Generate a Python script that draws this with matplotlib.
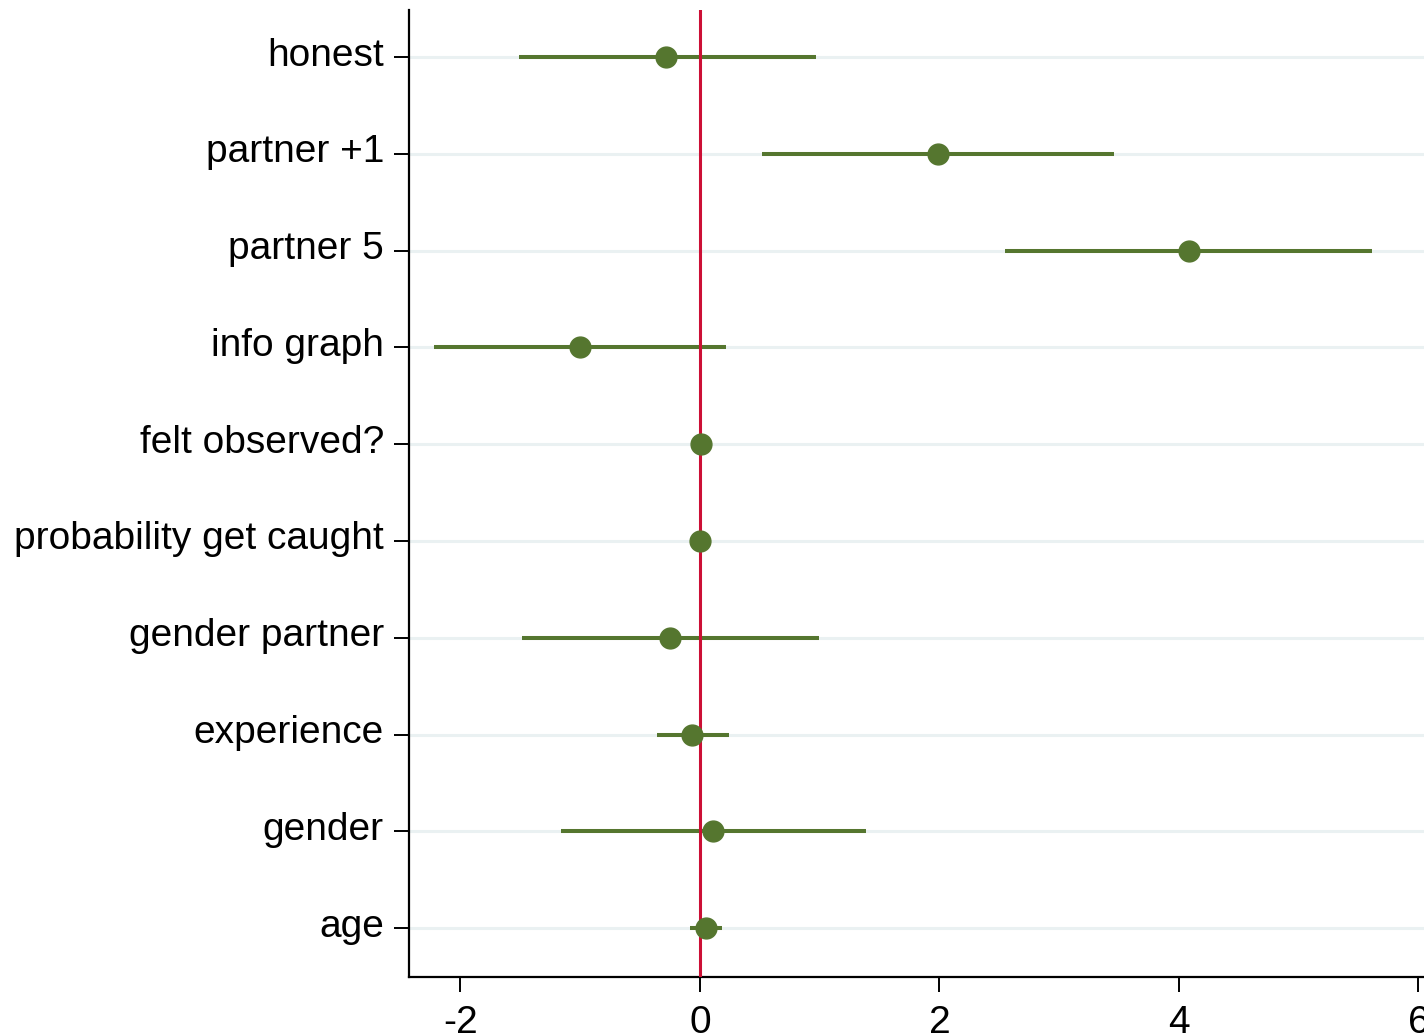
import matplotlib
matplotlib.use("Agg")
import matplotlib.pyplot as plt
import matplotlib.transforms as mtransforms
import numpy as np

plt.rcParams['font.family'] = ['Liberation Sans', 'DejaVu Sans']

# coefficients and 95% intervals, top row first
labels = ['honest', 'partner +1', 'partner 5', 'info graph', 'felt observed?',
          'probability get caught', 'gender partner', 'experience', 'gender', 'age']
coef = [-0.28, 1.99, 4.08, -1.00, 0.01, 0.00, -0.25, -0.07, 0.11, 0.05]
lo = [-1.51, 0.52, 2.55, -2.22, -0.01, -0.01, -1.49, -0.36, -1.16, -0.08]
hi = [0.97, 3.46, 5.61, 0.22, 0.03, 0.01, 0.99, 0.24, 1.39, 0.18]
xticks = [-2, 0, 2, 4, 6]

green = '#55762f'
red = '#cc0f35'

fig = plt.figure(figsize=(14.24, 10.34), dpi=100)
ax = fig.add_axes([0.2872, 0.0551, 0.7128, 0.9352])

ypos = np.arange(len(labels))
for y in ypos:
    ax.axhline(y, color='#eaf1f2', lw=2.2, zorder=0)

ax.hlines(ypos, lo, hi, color=green, lw=2.9, zorder=2)
ax.axvline(0, color=red, lw=2.2, zorder=3)
ax.plot(coef, ypos, 'o', color=green, ms=15, zorder=4)

ax.set_yticks(ypos)
ax.set_yticklabels(labels)
ax.set_xticks(xticks)
ax.set_xticklabels([str(t) for t in xticks])
ax.set_ylim(9.506, -0.486)
ax.set_xlim(-2.43, 6.046)

for s in ['top', 'right']:
    ax.spines[s].set_visible(False)
for s in ['left', 'bottom']:
    ax.spines[s].set_linewidth(1.6)
ax.tick_params(axis='both', labelsize=28, length=11, width=1.4, pad=7)
ax.tick_params(axis='x', pad=9)

# y labels sit a little above their ticks
shift = mtransforms.ScaledTranslation(0, 4 / 72, fig.dpi_scale_trans)
for lab in ax.get_yticklabels():
    lab.set_transform(lab.get_transform() + shift)

fig.savefig('out.png', dpi=100)
